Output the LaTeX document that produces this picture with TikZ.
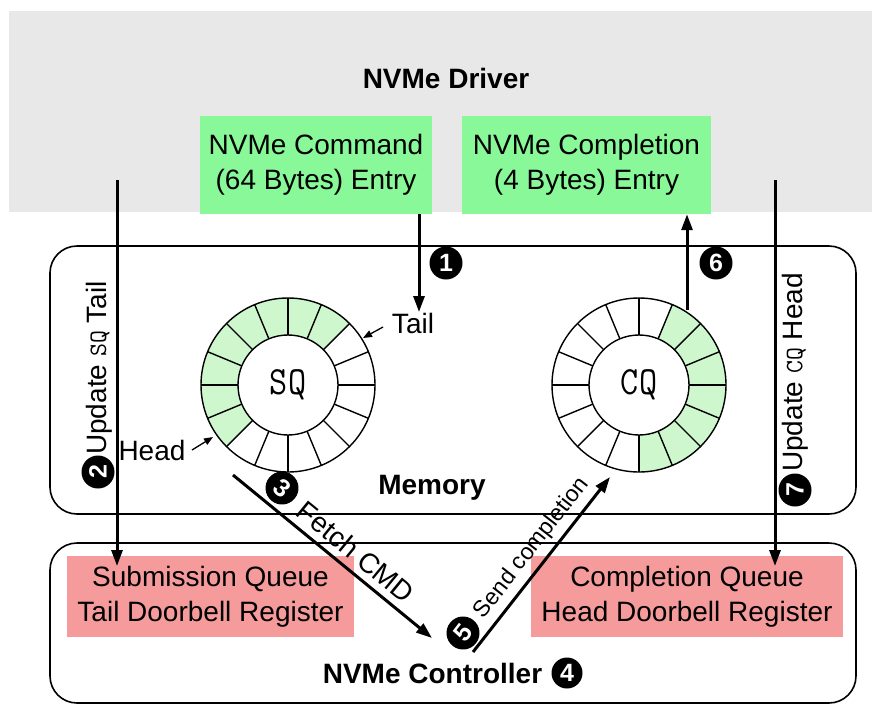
\documentclass[tikz,border=0pt]{standalone}
\usepackage{fontspec}
\setmainfont{Liberation Sans}
\usetikzlibrary{arrows.meta}
\definecolor{drvgray}{RGB}{232,232,232}
\definecolor{boxgreen}{RGB}{136,248,152}
\definecolor{ringgreen}{RGB}{206,247,206}
\definecolor{regpink}{RGB}{245,155,155}
\begin{document}
\begin{tikzpicture}[x=1pt,y=-1pt,
  lbl/.style={font=\fontsize{28}{34}\selectfont, inner sep=0pt},
  sidelbl/.style={font=\fontsize{28}{34}\selectfont, inner sep=0pt, rotate=90, anchor=west},
  ttl/.style={font=\fontsize{28}{34}\selectfont\bfseries, inner sep=0pt},
  gbox/.style={fill=boxgreen, minimum height=98pt, align=center, font=\fontsize{28}{35}\selectfont, inner sep=0pt},
  pbox/.style={fill=regpink, minimum height=81pt, align=center, font=\fontsize{28}{35}\selectfont, inner sep=0pt},
  region/.style={draw=black, line width=1.6pt, rounded corners=27pt, inner sep=0pt},
  arr/.style={line width=3pt, -{Triangle[length=16pt,width=11pt]}},
  thinarr/.style={line width=1.3pt, -{Triangle[length=9pt,width=7pt]}},
  numc/.style={circle, fill=black, text=white, inner sep=0pt, minimum size=33pt, font=\fontsize{25}{25}\selectfont\bfseries},
  ringline/.style={line width=1.4pt},
  qlbl/.style={font=\fontsize{40}{40}\selectfont\ttfamily, inner sep=0pt}
]
\useasboundingbox (0,0) rectangle (872,721);
\fill[white] (0,0) rectangle (872,721);

% driver
\node[fill=drvgray, minimum width=863pt, minimum height=201pt, inner sep=0pt] (drv) at (440.5,111.5) {};
\node[ttl] (drvt) at (446,78) {NVMe Driver};
\node[gbox, minimum width=232pt] (cmd) at (316,165) {NVMe Command\\(64 Bytes) Entry};
\node[gbox, minimum width=249pt] (cpl) at (586.5,165) {NVMe Completion\\(4 Bytes) Entry};

% memory and controller
\node[region, minimum width=806pt, minimum height=268pt] (mem) at (453,380) {};
\node[ttl] (memt) at (432,488) {Memory};
\node[region, minimum width=806pt, minimum height=160pt] (ctl) at (453,623) {};
\node[ttl] (ctlt) at (432.5,673) {NVMe Controller};
\node[numc, minimum size=31pt] (n4) at (567,673) {4};
\node[pbox, minimum width=287pt] (sqdb) at (210.5,596.5) {Submission Queue\\Tail Doorbell Register};
\node[pbox, minimum width=312pt] (cqdb) at (687,596.5) {Completion Queue\\Head Doorbell Register};

% SQ ring
\begin{scope}[shift={(288,385)}]
  \fill[ringgreen] (-45:87) arc[start angle=-45, end angle=-225, radius=87]
     -- (-225:50) arc[start angle=-225, end angle=-45, radius=50] -- cycle;
  \foreach \a in {0,22.5,...,337.5} \draw[ringline] (\a:50) -- (\a:87);
  \draw[ringline] (0,0) circle[radius=87];
  \draw[ringline] (0,0) circle[radius=50];
\end{scope}
\node[qlbl] (sq) at (288,385) {\scalebox{0.88}[1]{SQ}};

% CQ ring
\begin{scope}[shift={(639,385)}]
  \fill[ringgreen] (90:87) arc[start angle=90, end angle=-67.5, radius=87]
     -- (-67.5:50) arc[start angle=-67.5, end angle=90, radius=50] -- cycle;
  \foreach \a in {0,22.5,...,337.5} \draw[ringline] (\a:50) -- (\a:87);
  \draw[ringline] (0,0) circle[radius=87];
  \draw[ringline] (0,0) circle[radius=50];
\end{scope}
\node[qlbl] (cq) at (639,385) {\scalebox{0.88}[1]{CQ}};

% Tail / Head pointers
\node[lbl] (tail) at (413,323) {Tail};
\coordinate (tailp) at (363,338);
\coordinate (tails) at (383,327);
\draw[thinarr] (tails) -- (tailp);
\node[lbl] (head) at (152,450) {Head};
\coordinate (headp) at (213,437);
\coordinate (heads) at (192,450);
\draw[thinarr] (heads) -- (headp);

% step 1
\coordinate (t1) at (419,312);
\draw[arr] (cmd.south -| t1) -- (t1);
\node[numc] (n1) at (446,263) {1};

% step 6
\coordinate (s6) at (687,310);
\draw[arr] (s6) -- (s6 |- cpl.south);
\node[numc] (n6) at (716,263) {6};

% step 2
\coordinate (s2) at (117,180);
\coordinate (e2) at (117,566);
\draw[arr] (s2) -- (e2);
\node[numc, rotate=90] (n2) at (98,472) {2};
\node[sidelbl] (t2) at (99,455) {Update {\fontsize{25}{25}\selectfont\ttfamily SQ} Tail};

% step 7
\coordinate (s7) at (775,180);
\coordinate (e7) at (775,566);
\draw[arr] (s7) -- (e7);
\node[numc, rotate=90] (n7) at (795,490) {7};
\node[sidelbl] (t7) at (795,472) {Update {\fontsize{25}{25}\selectfont\ttfamily CQ} Head};

% step 3
\coordinate (s3) at (233,475);
\coordinate (e3) at (432,638);
\draw[arr] (s3) -- (e3);
\node[numc, rotate=-39.3] (n3) at (282,488) {3};
\node[lbl, rotate=-39.3] (f3) at (356,552) {Fetch CMD};

% step 5
\coordinate (s5) at (473,652);
\coordinate (e5) at (610,477);
\draw[arr] (s5) -- (e5);
\node[numc, rotate=52] (n5) at (463,633) {5};
\node[font=\fontsize{23}{23}\selectfont, inner sep=0pt, rotate=52] (f5) at (532,548) {Send completion};
\end{tikzpicture}
\end{document}
